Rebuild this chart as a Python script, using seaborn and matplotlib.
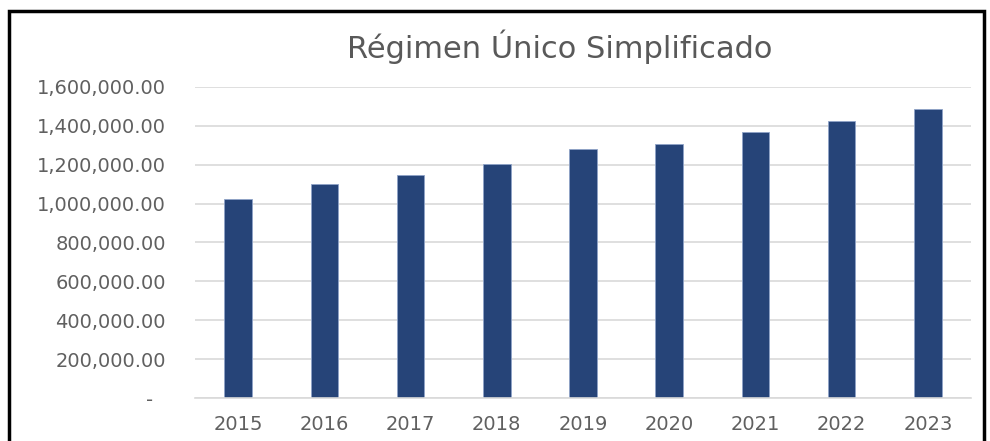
import pandas as pd
import seaborn as sns
import matplotlib.pyplot as plt
from matplotlib.patches import Rectangle
from matplotlib.ticker import FuncFormatter

# datos
anios = ["2015", "2016", "2017", "2018", "2019", "2020", "2021", "2022", "2023"]
montos = [1022000, 1101000, 1145000, 1202000, 1280000, 1305000, 1366000, 1424000, 1489000]

df = pd.DataFrame({"anio": anios, "monto": montos})

sns.set_style("white")
plt.rcParams["font.family"] = ["DejaVu Sans"]

fig = plt.figure(figsize=(9.9, 4.41), dpi=100)
ax = fig.add_axes([195 / 990, 1 - 398 / 441, 776 / 990, 311 / 441])

sns.barplot(data=df, x="anio", y="monto", color="#264478", width=0.32,
            saturation=1, edgecolor="#8fa3c8", linewidth=0.6, ax=ax)

ax.set_ylim(0, 1600000)
ax.set_xlim(-0.5, len(anios) - 0.5)
ax.set_yticks(range(0, 1600001, 200000))


def formato(v, pos):
    if v == 0:
        return "-  "
    return f"{v:,.2f}"


ax.yaxis.set_major_formatter(FuncFormatter(formato))
ax.grid(axis="y", color="#d9d9d9", linewidth=1.2)
ax.set_axisbelow(True)
for s in ["top", "right", "left"]:
    ax.spines[s].set_visible(False)
ax.spines["bottom"].set_color("#d9d9d9")
ax.spines["bottom"].set_linewidth(1.2)
ax.tick_params(axis="both", length=0, labelsize=14, labelcolor="#606060")
ax.tick_params(axis="y", pad=21)
ax.tick_params(axis="x", pad=12)
ax.set_xlabel("")
ax.set_ylabel("")

fig.text(560 / 990, 1 - 47 / 441, "Régimen Único Simplificado",
         ha="center", va="center", fontsize=22, color="#595959")

# marco
fig.patches.append(Rectangle((9 / 990, -0.05), 975 / 990, 1 - 11 / 441 + 0.05,
                             transform=fig.transFigure, fill=False,
                             edgecolor="black", linewidth=2.5))

fig.savefig("out.png", dpi=100)
